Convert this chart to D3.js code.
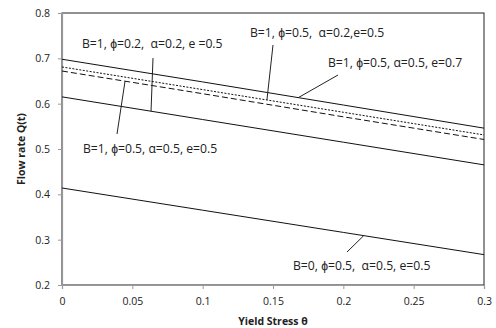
<!DOCTYPE html>
<html>
<head>
<meta charset="utf-8">
<script src="https://cdn.jsdelivr.net/npm/d3@7"></script>
<style>
body { margin: 0; background: #fff; }
text { font-family: "Open Sans", "Liberation Sans", sans-serif; }
</style>
</head>
<body>
<svg id="id_svg"></svg>
<script>
width = 496
height = 328
thetas = [0, 0.1, 0.2, 0.3]
// flow rate values for each curve
qTop = [0.698, 0.648, 0.597, 0.546]
qDotted = [0.681, 0.631, 0.581, 0.531]
qDashed = [0.672, 0.622, 0.571, 0.521]
qMid = [0.615, 0.565, 0.515, 0.465]
qBottom = [0.414, 0.365, 0.316, 0.267]
xTicks = [0, 0.05, 0.1, 0.15, 0.2, 0.25, 0.3]
yTicks = [0.2, 0.3, 0.4, 0.5, 0.6, 0.7, 0.8]

chart = function() {
    const margin = { left: 62, right: 12, top: 13, bottom: 43 };
    const svg = d3.select("#id_svg").attr("width", width).attr("height", height);

    const x = d3.scaleLinear().domain([0, 0.3]).range([margin.left, width - margin.right]);
    const y = d3.scaleLinear().domain([0.2, 0.8]).range([height - margin.bottom, margin.top]);

    // plot area frame
    svg.append("rect")
        .attr("x", x(0)).attr("y", y(0.8))
        .attr("width", x(0.3) - x(0)).attr("height", y(0.2) - y(0.8))
        .attr("fill", "none").attr("stroke", "#222").attr("stroke-width", 1);

    const xAxis = svg.append("g")
        .attr("transform", `translate(0,${y(0.2)})`)
        .call(d3.axisBottom(x).tickValues(xTicks).tickSize(4).tickPadding(9).tickFormat(d3.format("")));
    const yAxis = svg.append("g")
        .attr("transform", `translate(${x(0)},0)`)
        .call(d3.axisLeft(y).tickValues(yTicks).tickSize(4).tickPadding(8).tickFormat(d3.format(".1f")));
    for (const g of [xAxis, yAxis]) {
        g.select(".domain").attr("stroke", "#999").attr("stroke-width", 1.2);
        g.selectAll(".tick line").attr("stroke", "#999");
        g.selectAll(".tick text").attr("fill", "#222").style("font-size", "10.5px")
            .style("font-family", "'Open Sans', sans-serif");
    }

    const line = d3.line().x((d, i) => x(thetas[i])).y(d => y(d));
    const series = [
        { v: qTop, dash: null },
        { v: qDotted, dash: "2,1.5" },
        { v: qDashed, dash: "6,3" },
        { v: qMid, dash: null },
        { v: qBottom, dash: null }
    ];
    svg.append("g").selectAll("path").data(series).join("path")
        .attr("d", d => line(d.v))
        .attr("fill", "none")
        .attr("stroke", "#111")
        .attr("stroke-width", 1)
        .attr("stroke-dasharray", d => d.dash);

    // annotations: label text, text anchor point, leader start and target on a curve
    const at = (v, t) => v[0] + (v[3] - v[0]) * t / 0.3;
    const notes = [
        { text: "B=1, \u03d5=0.2,  \u03b1=0.2, e =0.5", tx: 82, ty: 48, l: [153, 58], t: 0.0633, v: qMid },
        { text: "B=1, \u03d5=0.5, \u03b1=0.5, e=0.5", tx: 83, ty: 153, l: [117, 134], t: 0.0448, v: qDashed },
        { text: "B=1, \u03d5=0.5,  \u03b1=0.2,e=0.5", tx: 250, ty: 37, l: [273, 45], t: 0.1457, v: qDotted },
        { text: "B=1, \u03d5=0.5, \u03b1=0.5, e=0.7", tx: 328, ty: 67, l: [338, 75], t: 0.1678, v: qTop },
        { text: "B=0, \u03d5=0.5,  \u03b1=0.5, e=0.5", tx: 293, ty: 270, l: [347, 252], t: 0.2145, v: qBottom }
    ];
    const g = svg.append("g");
    g.selectAll("line").data(notes).join("line")
        .attr("x1", d => d.l[0]).attr("y1", d => d.l[1])
        .attr("x2", d => x(d.t)).attr("y2", d => y(at(d.v, d.t)))
        .attr("stroke", "#222").attr("stroke-width", 1);
    g.selectAll("text").data(notes).join("text")
        .attr("x", d => d.tx).attr("y", d => d.ty)
        .attr("fill", "#222")
        .style("font-size", "12.2px")
        .style("white-space", "pre")
        .text(d => d.text);

    svg.append("text")
        .attr("x", x(0.15)).attr("y", 325)
        .attr("text-anchor", "middle")
        .style("font-size", "10.5px").style("font-weight", "bold")
        .attr("fill", "#222")
        .text("Yield Stress \u03b8");
    svg.append("text")
        .attr("transform", `translate(25,${y(0.5)}) rotate(-90)`)
        .attr("text-anchor", "middle")
        .style("font-size", "10.5px").style("font-weight", "bold")
        .attr("fill", "#222")
        .text("Flow rate Q(t)");

    return svg.node();
}
chart()
</script>
</body>
</html>
